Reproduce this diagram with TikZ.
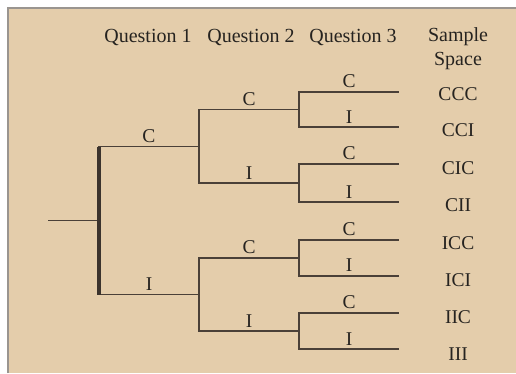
\documentclass[tikz,border=0pt]{standalone}
\usepackage{fontspec}
\setmainfont{Liberation Serif}
\definecolor{panel}{HTML}{E4CDAB}
\definecolor{edge}{HTML}{9A9590}
\definecolor{ink}{HTML}{4A4038}
\definecolor{txt}{HTML}{262320}
\tikzset{
  branch/.style={draw=ink, line width=1.7pt},
  trunk/.style={draw=ink!80!black, line width=3.2pt},
  lab/.style={text=txt, font=\fontsize{19.5}{22}\selectfont, inner sep=1pt},
  outcome/.style={text=txt, font=\fontsize{19.5}{22}\selectfont, inner sep=0pt},
  head/.style={text=txt, font=\fontsize{20}{24}\selectfont, align=center, inner sep=0pt}
}
\begin{document}
\begin{tikzpicture}[x=1pt,y=-1pt]
\useasboundingbox (0,0) rectangle (516,373);
\fill[white] (0,0) rectangle (516,373);
\fill[panel] (7,7) rectangle (516,373);
\draw[edge, line width=1.8pt] (7.9,373) -- (7.9,7.9) -- (516,7.9);

% headers
\node[head] (h1) at (148,37) {Question 1};
\node[head] (h2) at (251,37) {Question 2};
\node[head] (h3) at (353,37) {Question 3};
\node[head] (h4) at (458,49) {Sample\\Space};

% tree coordinates
\coordinate (R0) at (48,220.5);
\coordinate (J0) at (99,220.5);
\coordinate (A1) at (199,146.5);
\coordinate (A2) at (199,294.5);
\coordinate (B1) at (299,109.5);
\coordinate (B2) at (299,183);
\coordinate (B3) at (299,258);
\coordinate (B4) at (299,331);
\coordinate (L1) at (399,92);
\coordinate (L2) at (399,127);
\coordinate (L3) at (399,164);
\coordinate (L4) at (399,202);
\coordinate (L5) at (399,240);
\coordinate (L6) at (399,276);
\coordinate (L7) at (399,313);
\coordinate (L8) at (399,349);

% root
\draw[branch] (R0) -- (J0);
% question 1
\draw[branch] (J0) |- node[lab, pos=0.75, above=2pt] {C} (A1);
\draw[branch] (J0) |- node[lab, pos=0.75, above=2pt] {I} (A2);
\draw[trunk] (J0 |- A1) -- (J0 |- A2);
% question 2
\draw[branch] (A1) |- node[lab, pos=0.75, above=2pt] {C} (B1);
\draw[branch] (A1) |- node[lab, pos=0.75, above=2pt] {I} (B2);
\draw[branch, line width=2.1pt] (A2) |- node[lab, pos=0.75, above=2pt] {C} (B3);
\draw[branch] (A2) |- node[lab, pos=0.75, above=2pt] {I} (B4);
% question 3
\draw[branch] (B1) |- node[lab, pos=0.75, above=2pt] {C} (L1);
\draw[branch] (B1) |- node[lab, pos=0.75, above=2pt] {I} (L2);
\draw[branch] (B2) |- node[lab, pos=0.75, above=2pt] {C} (L3);
\draw[branch] (B2) |- node[lab, pos=0.75, above=2pt] {I} (L4);
\draw[branch] (B3) |- node[lab, pos=0.75, above=2pt] {C} (L5);
\draw[branch, line width=2.1pt] (B3) |- node[lab, pos=0.75, above=2pt] {I} (L6);
\draw[branch] (B4) |- node[lab, pos=0.75, above=2pt] {C} (L7);
\draw[branch] (B4) |- node[lab, pos=0.75, above=2pt] {I} (L8);

% sample space
\node[outcome] (s1) at (458,94) {CCC};
\node[outcome] (s2) at (458,130) {CCI};
\node[outcome] (s3) at (458,168) {CIC};
\node[outcome] (s4) at (458,205) {CII};
\node[outcome] (s5) at (458,243) {ICC};
\node[outcome] (s6) at (458,280) {ICI};
\node[outcome] (s7) at (458,317) {IIC};
\node[outcome] (s8) at (458,354) {III};
\end{tikzpicture}
\end{document}
